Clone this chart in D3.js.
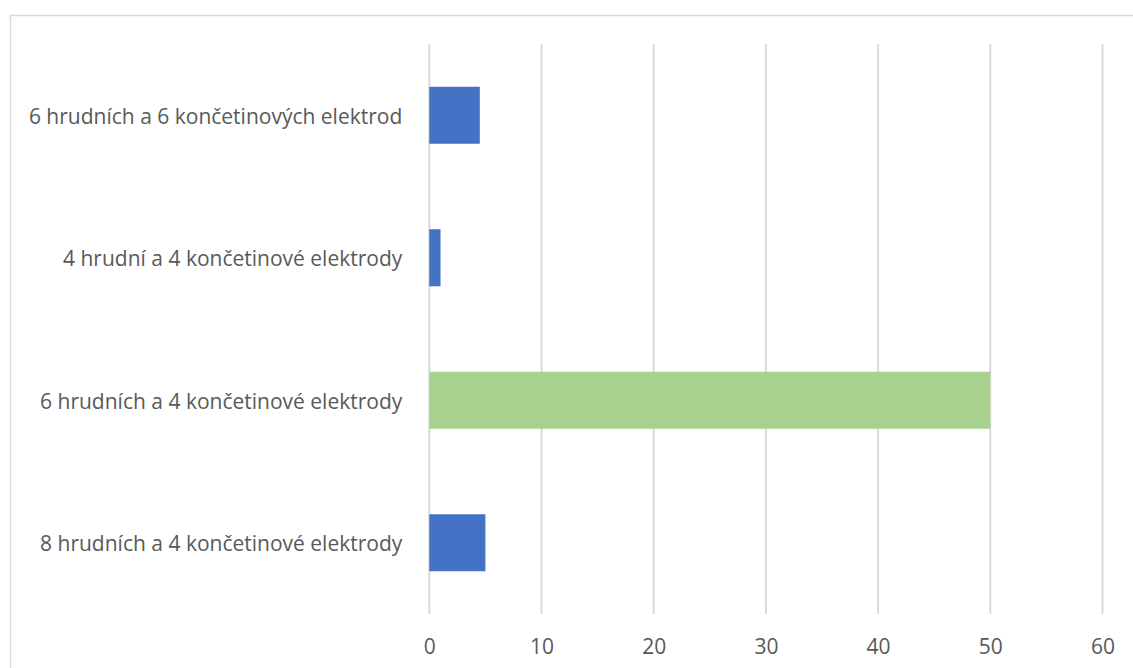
<!DOCTYPE html>
<html><head><meta charset="utf-8">
<script src="https://cdn.jsdelivr.net/npm/d3@7/dist/d3.min.js"></script>
<style>body{margin:0;background:#fff}svg{display:block}</style>
</head><body>
<script>
const categories = ["6 hrudních a 6 končetinových elektrod","4 hrudní a 4 končetinové elektrody","6 hrudních a 4 končetinové elektrody","8 hrudních a 4 končetinové elektrody"];
const values = [4.5, 1, 50, 5];
const barColors = ["#4472C4","#4472C4","#A9D18E","#4472C4"];
const xTicks = [0,10,20,30,40,50,60];

const W=1133,H=668;
const svg=d3.select("body").append("svg").attr("width",W).attr("height",H);
svg.append("rect").attr("x",10.5).attr("y",15.5).attr("width",1140).attr("height",700)
  .attr("fill","#fff").attr("stroke","#d9d9d9").attr("stroke-width",1.5);
const x=d3.scaleLinear().domain([0,60]).range([429.3,1102.5]);
const y=d3.scaleBand().domain(categories).range([44,614]).paddingInner(0.6).paddingOuter(0.3);
svg.append("g").selectAll("line").data(xTicks).join("line")
  .attr("x1",d=>x(d)).attr("x2",d=>x(d)).attr("y1",44).attr("y2",614)
  .attr("stroke","#d9d9d9").attr("stroke-width",2);
svg.append("g").selectAll("rect").data(values).join("rect")
  .attr("x",x(0)).attr("y",(d,i)=>y(categories[i]))
  .attr("width",d=>x(d)-x(0)).attr("height",y.bandwidth())
  .attr("fill",(d,i)=>barColors[i]);
const font="'Open Sans', sans-serif";
const ax=svg.append("g").attr("transform","translate(0,614)")
  .call(d3.axisBottom(x).tickValues(xTicks).tickSize(0).tickPadding(25));
ax.select(".domain").remove();
ax.selectAll("text").attr("font-family",font).attr("font-size",21).attr("fill","#595959");
const ay=svg.append("g").attr("transform","translate(429.3,2)")
  .call(d3.axisLeft(y).tickSize(0).tickPadding(27));
ay.select(".domain").remove();
ay.selectAll("text").attr("font-family",font).attr("font-size",21).attr("fill","#595959");
</script>
</body></html>
